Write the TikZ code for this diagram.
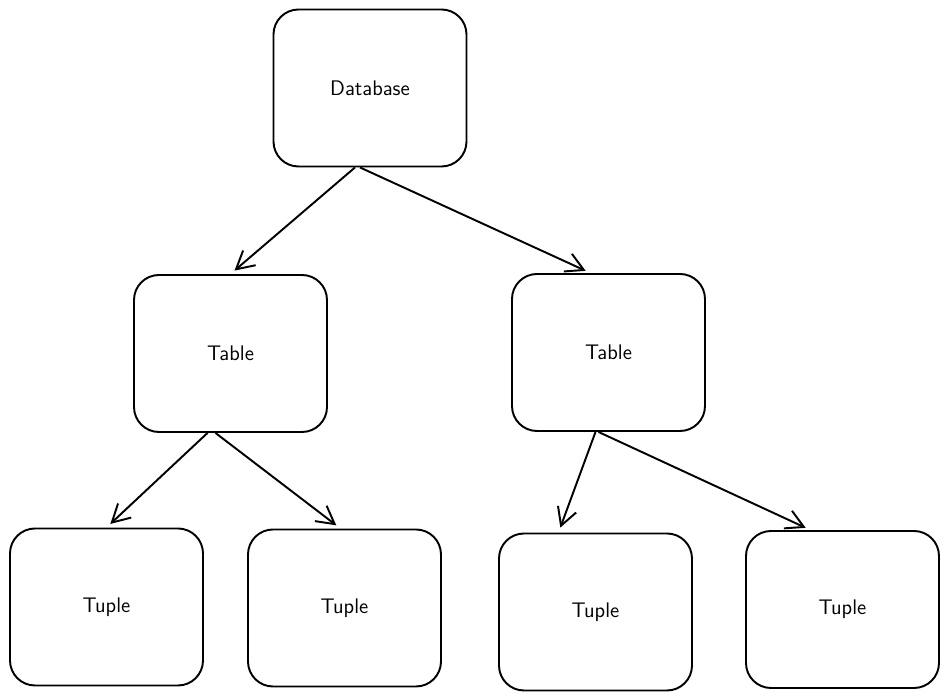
\documentclass[tikz,border=0pt]{standalone}
\usepackage{tikz}
\usetikzlibrary{positioning, arrows.meta}

\tikzset{
  box/.style={draw, line width=1.1pt, rounded corners=0.5cm, minimum width=3.86cm, minimum height=3.14cm, inner sep=0pt, font=\sffamily\large},
  arrow/.style={line width=1.1pt, -{Straight Barb[length=10pt, width=11pt]}, shorten >=3pt}
}

\begin{document}
\begin{tikzpicture}
\useasboundingbox (0,0) rectangle (18.98,14);
\node[box] (db) at (7.40,12.24) {Database};
\node[box] (tl) at (4.61,6.93) {Table};
\node[box] (tr) at (12.17,6.95) {Table};
\node[box] (t1) at (2.13,1.86) {Tuple};
\node[box] (t2) at (6.89,1.84) {Tuple};
\node[box] (t3) at (11.91,1.76) {Tuple};
\node[box] (t4) at (16.85,1.81) {Tuple};

\draw[arrow] ([xshift=-0.3cm]db.south) -- (tl.north);
\draw[arrow] ([xshift=-0.2cm]db.south) -- ([xshift=-0.36cm]tr.north);
\draw[arrow] ([xshift=-0.46cm]tl.south) -- (t1.north);
\draw[arrow] ([xshift=-0.3cm]tl.south) -- ([xshift=-0.08cm]t2.north);
\draw[arrow] ([xshift=-0.26cm]tr.south) -- ([xshift=-0.74cm]t3.north);
\draw[arrow] ([xshift=-0.2cm]tr.south) -- ([xshift=-0.64cm]t4.north);
\end{tikzpicture}
\end{document}
